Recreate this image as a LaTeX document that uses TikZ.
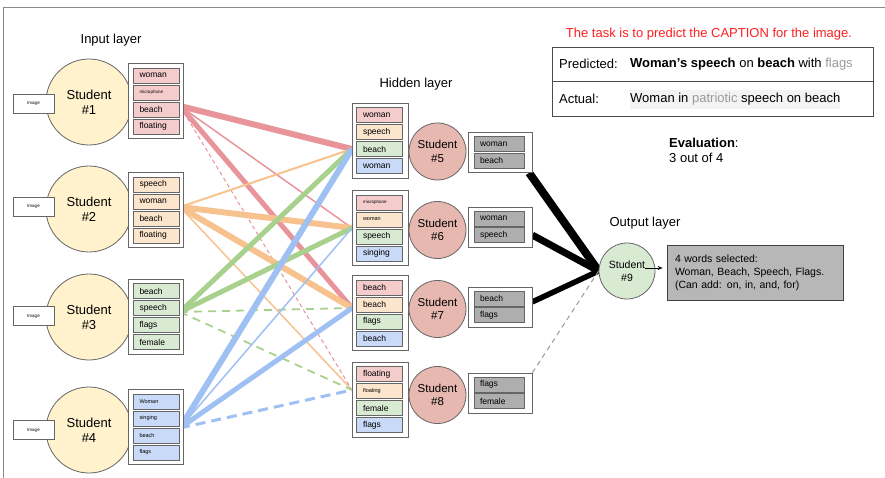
\documentclass[tikz,border=0pt]{standalone}
\usepackage{fontspec}
\setmainfont{Liberation Sans}
\usetikzlibrary{arrows.meta,calc}
\definecolor{pinkc}{HTML}{F4CCCC}
\definecolor{orangec}{HTML}{FCE5CD}
\definecolor{greenc}{HTML}{D9EAD3}
\definecolor{bluec}{HTML}{C9DAF8}
\definecolor{yellowc}{HTML}{FFF2CC}
\definecolor{salmonc}{HTML}{E6B8AF}
\definecolor{grayboxc}{HTML}{AEAEAE}
\definecolor{outboxc}{HTML}{B7B7B7}
\definecolor{redl}{HTML}{E8949A}
\definecolor{orangel}{HTML}{F8C28E}
\definecolor{greenl}{HTML}{A9D18E}
\definecolor{bluel}{HTML}{9EC0F2}
\definecolor{bordc}{HTML}{666666}
\definecolor{framec}{HTML}{8A8A8A}
\definecolor{redt}{HTML}{FF1F1F}
\definecolor{grayt}{HTML}{9A9A9A}
\definecolor{hlc}{HTML}{F3F3F3}
\pgfdeclarelayer{bg}
\pgfsetlayers{bg,main}
\begin{document}
\begin{tikzpicture}[x=1pt,y=-1pt,
  ttl/.style={inner sep=0, font=\fontsize{13}{15}\selectfont},
  stu/.style={circle, draw=bordc, line width=0.8, fill=yellowc, minimum size=86, inner sep=0, align=center, font=\fontsize{13}{15}\selectfont},
  hstu/.style={circle, draw=bordc, line width=0.8, fill=salmonc, minimum size=57, inner sep=0, align=center, font=\fontsize{11.5}{13.5}\selectfont},
  ostu/.style={circle, draw=bordc, line width=0.8, fill=greenc, minimum size=56, inner sep=0, align=center, font=\fontsize{10.5}{13}\selectfont},
  imgbox/.style={draw=bordc, fill=white, line width=0.7, minimum width=41, minimum height=19, inner sep=0, font=\fontsize{4.5}{5}\selectfont},
  grp/.style={draw=bordc, fill=white, line width=0.8, minimum width=55, minimum height=75, inner sep=0},
  wrd/.style={draw=bordc, line width=0.7, minimum height=15, text width=33, inner xsep=6.5, inner ysep=0, align=left, font=\fontsize{8.5}{9}\selectfont},
  tiny/.style={font=\fontsize{4.5}{5}\selectfont},
  small/.style={font=\fontsize{5.5}{6}\selectfont},
  ggrp/.style={draw=bordc, fill=white, line width=0.8, minimum width=64, minimum height=40, inner sep=0},
  gwrd/.style={draw=bordc, fill=grayboxc, line width=0.7, minimum height=15, text width=38, inner xsep=6, inner ysep=0, align=left, font=\fontsize{8.5}{9}\selectfont},
  txt/.style={inner sep=0, font=\fontsize{13}{15}\selectfont}
]
\useasboundingbox (0,0) rectangle (885,478);
\draw[framec, line width=1] (3,478) -- (3,8) -- (885,8);

% titles
\node[ttl] (tin) at (111,40) {Input layer};
\node[ttl] (thid) at (416,84) {Hidden layer};
\node[ttl] (tout) at (645,223) {Output layer};

% input students
\node[stu] (c1) at (89,102) {Student\\\#1};
\node[stu] (c2) at (89,209) {Student\\\#2};
\node[stu] (c3) at (89,317) {Student\\\#3};
\node[stu] (c4) at (89,430) {Student\\\#4};
\node[imgbox] (i1) at (33.5,103.5) {Image};
\node[imgbox] (i2) at (33.5,206.5) {Image};
\node[imgbox] (i3) at (33.5,316) {Image};
\node[imgbox] (i4) at (33.5,430) {Image};

% input word groups
\node[grp] (g1) at (155.5,101) {};
\node[wrd, fill=pinkc] (w1a) at (156,75.5) {woman};
\node[wrd, fill=pinkc, tiny] (w1b) at (156,92.5) {microphone};
\node[wrd, fill=pinkc] (w1c) at (156,109.5) {beach};
\node[wrd, fill=pinkc] (w1d) at (156,126.5) {floating};

\node[grp] (g2) at (155.5,210) {};
\node[wrd, fill=orangec] (w2a) at (156,184.5) {speech};
\node[wrd, fill=orangec] (w2b) at (156,201.5) {woman};
\node[wrd, fill=orangec] (w2c) at (156,218.5) {beach};
\node[wrd, fill=orangec] (w2d) at (156,235.5) {floating};

\node[grp] (g3) at (155.5,316.5) {};
\node[wrd, fill=greenc] (w3a) at (156,291) {beach};
\node[wrd, fill=greenc] (w3b) at (156,308) {speech};
\node[wrd, fill=greenc] (w3c) at (156,325) {flags};
\node[wrd, fill=greenc] (w3d) at (156,342) {female};

\node[grp] (g4) at (155.5,427) {};
\node[wrd, fill=bluec, small] (w4a) at (156,401.5) {Woman};
\node[wrd, fill=bluec, small] (w4b) at (156,418.5) {singing};
\node[wrd, fill=bluec, small] (w4c) at (156,435.5) {beach};
\node[wrd, fill=bluec, small] (w4d) at (156,452.5) {flags};

% hidden word groups
\node[grp, minimum width=56] (h5) at (380,140.5) {};
\node[wrd, fill=pinkc] (h5a) at (379.5,115) {woman};
\node[wrd, fill=orangec] (h5b) at (379.5,132) {speech};
\node[wrd, fill=greenc] (h5c) at (379.5,149) {beach};
\node[wrd, fill=bluec] (h5d) at (379.5,166) {woman};

\node[grp, minimum width=56] (h6) at (380,228) {};
\node[wrd, fill=pinkc, tiny] (h6a) at (379.5,202.5) {microphone};
\node[wrd, fill=orangec, small] (h6b) at (379.5,219.5) {woman};
\node[wrd, fill=greenc] (h6c) at (379.5,236.5) {speech};
\node[wrd, fill=bluec] (h6d) at (379.5,253.5) {singing};

\node[grp, minimum width=56] (h7) at (380,313) {};
\node[wrd, fill=pinkc] (h7a) at (379.5,287.5) {beach};
\node[wrd, fill=orangec] (h7b) at (379.5,304.5) {beach};
\node[wrd, fill=greenc] (h7c) at (379.5,321.5) {flags};
\node[wrd, fill=bluec] (h7d) at (379.5,338.5) {beach};

\node[grp, minimum width=56] (h8) at (380,399.5) {};
\node[wrd, fill=pinkc] (h8a) at (379.5,374) {floating};
\node[wrd, fill=orangec, small] (h8b) at (379.5,391) {floating};
\node[wrd, fill=greenc] (h8c) at (379.5,408) {female};
\node[wrd, fill=bluec] (h8d) at (379.5,425) {flags};

% hidden students
\node[hstu] (c5) at (437.5,151.5) {Student\\\#5};
\node[hstu] (c6) at (437.5,230) {Student\\\#6};
\node[hstu] (c7) at (437.5,309) {Student\\\#7};
\node[hstu] (c8) at (437.5,395) {Student\\\#8};

% hidden outputs
\node[ggrp] (o5) at (500,152.5) {};
\node[gwrd] (o5a) at (499,144.25) {woman};
\node[gwrd] (o5b) at (499,160.75) {beach};
\node[ggrp] (o6) at (500,227) {};
\node[gwrd] (o6a) at (499,218.75) {woman};
\node[gwrd] (o6b) at (499,235.25) {speech};
\node[ggrp] (o7) at (500,307) {};
\node[gwrd] (o7a) at (499,298.75) {beach};
\node[gwrd] (o7b) at (499,315.25) {flags};
\node[ggrp] (o8) at (500,393) {};
\node[gwrd] (o8a) at (499,384.75) {flags};
\node[gwrd] (o8b) at (499,401.25) {female};

% output
\node[ostu] (c9) at (627,271) {Student\\\#9};
\node[draw=black!75, fill=outboxc, line width=0.8, minimum width=176, minimum height=55, text width=160, inner xsep=8, inner ysep=0, align=left, font=\fontsize{10.5}{13}\selectfont] (ob) at (755,272.5) {4 words selected:\\Woman, Beach, Speech, Flags.\\(Can add: on, in, and, for)};
\coordinate (a9) at (645,268);
\draw[black, line width=0.8, -{Stealth[length=5,width=4]}, shorten >=4] (a9) -- (ob.west |- a9);

% convergence points
\coordinate (s1) at (180,106);
\coordinate (s2) at (180,207);
\coordinate (s3) at (180,312);
\coordinate (s4) at (180,428);
\coordinate (t5) at (352,149);
\coordinate (t6) at (352,228);
\coordinate (t7) at (352,308);
\coordinate (t8) at (352,390);

\begin{pgfonlayer}{bg}
\draw[redl, line width=6] (s1) -- (t5);
\draw[redl, line width=1.5] (s1) -- (t6);
\draw[redl, line width=5] (s1) -- (t7);
\draw[redl, line width=1, dash pattern=on 4 off 3] (s1) -- (t8);
\draw[orangel, line width=2] (s2) -- (t5);
\draw[orangel, line width=6] (s2) -- (t6);
\draw[orangel, line width=6] (s2) -- (t7);
\draw[orangel, line width=1.5] (s2) -- (t8);
\draw[greenl, line width=5] (s3) -- (t5);
\draw[greenl, line width=5] (s3) -- (t6);
\draw[greenl, line width=1.8, dash pattern=on 8 off 6] (s3) -- (t7);
\draw[greenl, line width=1.8, dash pattern=on 8 off 6] (s3) -- (t8);
\draw[bluel, line width=6] (s4) -- (t5);
\draw[bluel, line width=1.5] (s4) -- (t6);
\draw[bluel, line width=5] (s4) -- (t7);
\draw[bluel, line width=3, dash pattern=on 10 off 6] (s4) -- (t8);
\draw[black, line width=8] (o5.-35) -- (c9.west);
\draw[black, line width=7] (o6.-14) -- (c9.west);
\draw[black, line width=5.5] (o7.9) -- (c9.west);
\draw[grayt, line width=1, dash pattern=on 5 off 4] (o8.32) -- (c9.west);
\end{pgfonlayer}

% top right
\node[txt, text=redt] (task) at (709,34) {The task is to predict the CAPTION for the image.};
\node[draw=black!70, line width=0.8, minimum width=321, minimum height=34, inner sep=0] (prow) at (712.5,64) {};
\node[draw=black!70, line width=0.8, minimum width=321, minimum height=35, inner sep=0] (arow) at (712.5,98.5) {};
\fill[hlc] (630,90) rectangle (840,109);
\node[txt, anchor=west] (pl) at (559,64) {Predicted:};
\node[txt, anchor=west] (pv) at (630,64) {\textbf{Woman’s speech} on \textbf{beach} with \textcolor{grayt}{flags}};
\node[txt, anchor=west] (al) at (559,99) {Actual:};
\node[txt, anchor=west] (av) at (630,99) {Woman in \textcolor{grayt}{patriotic} speech on beach};
\node[txt, anchor=west, align=left] (ev) at (669,150) {\textbf{Evaluation}:\\3 out of 4};
\end{tikzpicture}
\end{document}
